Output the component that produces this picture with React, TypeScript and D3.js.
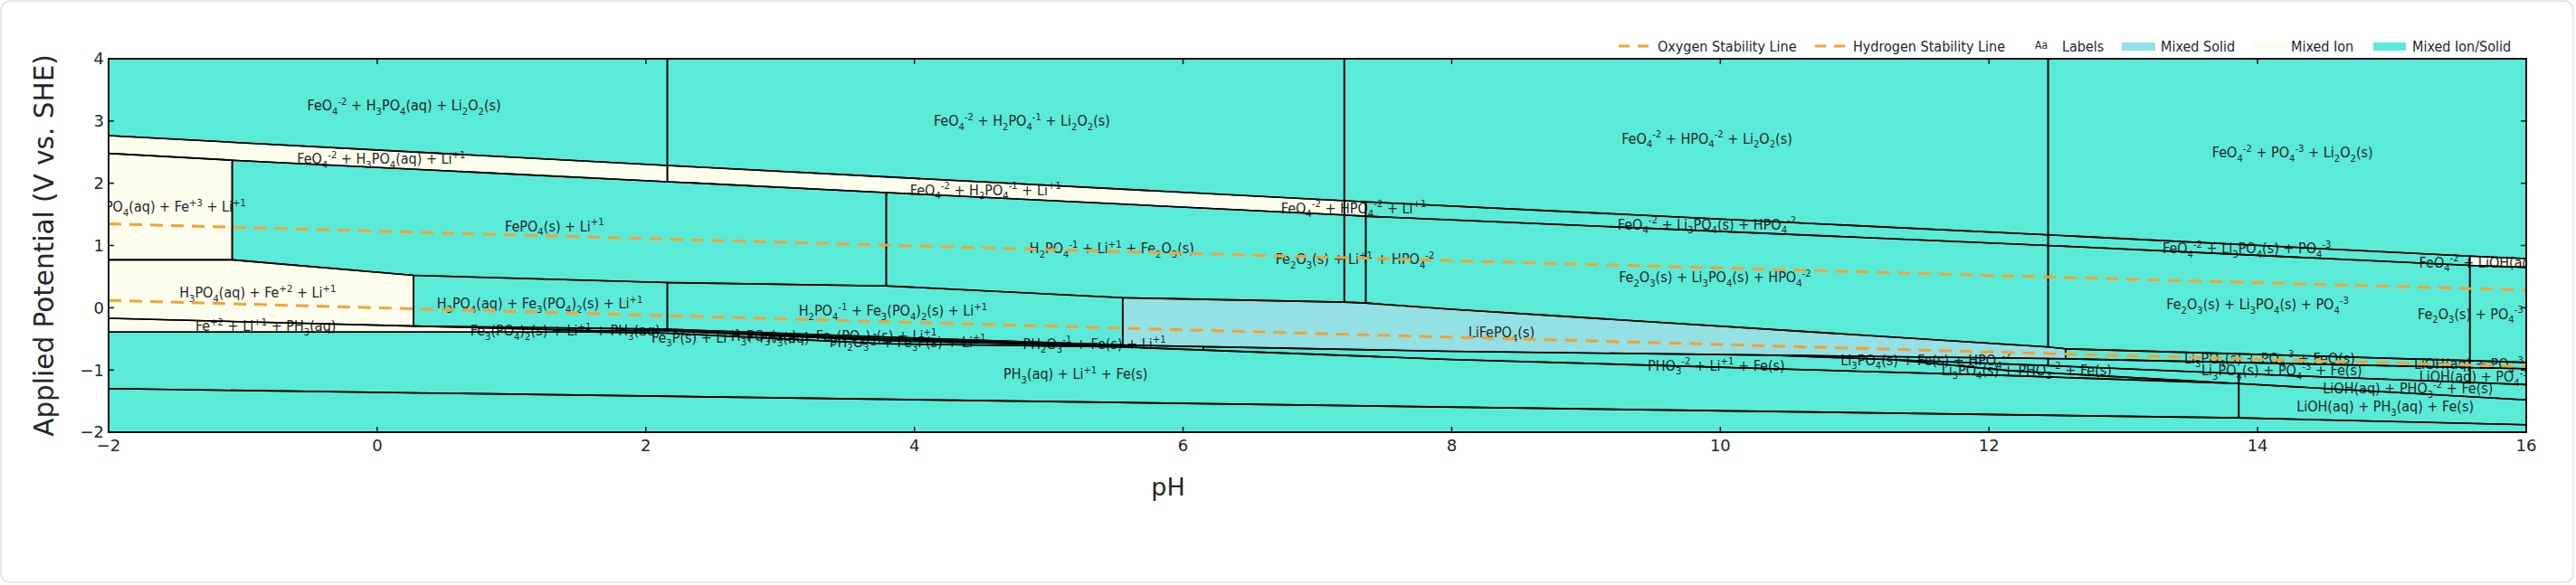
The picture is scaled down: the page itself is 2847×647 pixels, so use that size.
import React from "react";
import * as d3 from "d3";

type P = [number, number];

// ---------- axes ----------
const pHTicks = [-2, 0, 2, 4, 6, 8, 10, 12, 14, 16];
const potentialTicks = [-2, -1, 0, 1, 2, 3, 4];

// ---------- boundary lines, [pH, E (V vs SHE)] ----------
const lineTop: P[] = [[-2, 4], [16, 4]];
const lineA: P[] = [[-2, 2.765], [2.16, 2.285], [7.2, 1.72], [7.36, 1.7], [12.44, 1.17], [15.58, 0.83], [16, 0.79]];
const lineB: P[] = [[-2, 2.48], [-1.08, 2.37], [2.16, 2.025], [3.79, 1.85], [7.2, 1.49], [7.36, 1.47], [12.44, 1.0], [15.58, 0.68], [16, 0.65]];
const lineC: P[] = [[-2, 0.77], [-1.08, 0.77], [0.27, 0.52], [2.16, 0.405], [3.79, 0.35], [5.55, 0.16], [7.2, 0.09], [7.36, 0.075], [7.97, -0.02], [12.15, -0.59], [12.44, -0.63], [12.57, -0.66], [15.58, -0.85], [16, -0.88]];
const lineD: P[] = [[-2, -0.17], [0.27, -0.295], [2.16, -0.345], [3.79, -0.47], [5.55, -0.6]];
const lineB1: P[] = [[0.27, -0.295], [1.6, -0.37], [2.16, -0.37], [3.79, -0.5], [5.55, -0.605]];
const lineB2: P[] = [[2.16, -0.37], [3.79, -0.53], [5.55, -0.615]];
const lineH: P[] = [[-2, -0.39], [1.6, -0.39], [2.16, -0.41], [3.79, -0.58], [5.55, -0.63], [6.15, -0.68], [7.97, -0.83], [12.15, -1.09], [13.86, -1.22], [16, -1.48]];
const lineL1: P[] = [[5.55, -0.6], [7.97, -0.7], [12.57, -0.82], [16, -0.98]];
const lineM: P[] = [[10.4, -0.763], [12.44, -0.93], [13.86, -1.06], [15.58, -1.2], [16, -1.235]];
const lineQ: P[] = [[11.3, -0.837], [12.15, -1.01], [13.86, -1.22]];
const lineBottom: P[] = [[-2, -1.3], [13.86, -1.77], [16, -1.88]];
const lineFloor: P[] = [[-2, -2], [16, -2]];

// ---------- water stability lines ----------
const oxygenLine: P[] = [[-2, 1.348], [16, 0.284]];
const hydrogenLine: P[] = [[-2, 0.118], [16, -0.946]];

// ---------- regions ----------
type Part = [P[], number, number];
type Region = { label: string; phase: "ion" | "solid" | "mixed"; top: Part[]; bot: Part[]; at: P | null };

const regions: Region[] = [
  { label: "FeO4-2 + H3PO4(aq) + Li2O2(s)", phase: "mixed", top: [[lineTop, -2, 2.16]], bot: [[lineA, -2, 2.16]], at: [0.2, 3.25] },
  { label: "FeO4-2 + H2PO4-1 + Li2O2(s)", phase: "mixed", top: [[lineTop, 2.16, 7.2]], bot: [[lineA, 2.16, 7.2]], at: [4.8, 3.0] },
  { label: "FeO4-2 + HPO4-2 + Li2O2(s)", phase: "mixed", top: [[lineTop, 7.2, 12.44]], bot: [[lineA, 7.2, 12.44]], at: [9.9, 2.72] },
  { label: "FeO4-2 + PO4-3 + Li2O2(s)", phase: "mixed", top: [[lineTop, 12.44, 16]], bot: [[lineA, 12.44, 16]], at: [14.26, 2.49] },

  { label: "FeO4-2 + H3PO4(aq) + Li+1", phase: "ion", top: [[lineA, -2, 2.16]], bot: [[lineB, -2, 2.16]], at: [0.03, 2.39] },
  { label: "FeO4-2 + H2PO4-1 + Li+1", phase: "ion", top: [[lineA, 2.16, 7.2]], bot: [[lineB, 2.16, 7.2]], at: [4.53, 1.89] },
  { label: "FeO4-2 + HPO4-2 + Li+1", phase: "ion", top: [[lineA, 7.2, 7.36]], bot: [[lineB, 7.2, 7.36]], at: [7.27, 1.6] },
  { label: "FeO4-2 + Li3PO4(s) + HPO4-2", phase: "mixed", top: [[lineA, 7.36, 12.44]], bot: [[lineB, 7.36, 12.44]], at: [9.9, 1.34] },
  { label: "FeO4-2 + Li3PO4(s) + PO4-3", phase: "mixed", top: [[lineA, 12.44, 15.58]], bot: [[lineB, 12.44, 15.58]], at: [13.92, 0.95] },
  { label: "FeO4-2 + LiOH(aq) + PO4-3", phase: "ion", top: [[lineA, 15.58, 16]], bot: [[lineB, 15.58, 16]], at: [15.83, 0.73] },

  { label: "H3PO4(aq) + Fe+3 + Li+1", phase: "ion", top: [[lineB, -2, -1.08]], bot: [[lineC, -2, -1.08]], at: [-1.56, 1.62] },
  { label: "FePO4(s) + Li+1", phase: "mixed", top: [[lineB, -1.08, 3.79]], bot: [[lineC, -1.08, 3.79]], at: [1.32, 1.31] },
  { label: "H2PO4-1 + Li+1 + Fe2O3(s)", phase: "mixed", top: [[lineB, 3.79, 7.2]], bot: [[lineC, 3.79, 7.2]], at: [5.47, 0.95] },
  { label: "Fe2O3(s) + Li+1 + HPO4-2", phase: "mixed", top: [[lineB, 7.2, 7.36]], bot: [[lineC, 7.2, 7.36]], at: [7.28, 0.78] },
  { label: "Fe2O3(s) + Li3PO4(s) + HPO4-2", phase: "mixed", top: [[lineB, 7.36, 12.44]], bot: [[lineC, 7.36, 12.44]], at: [9.96, 0.49] },
  { label: "Fe2O3(s) + Li3PO4(s) + PO4-3", phase: "mixed", top: [[lineB, 12.44, 15.58]], bot: [[lineC, 12.44, 15.58]], at: [14.0, 0.05] },
  { label: "Fe2O3(s) + PO4-3 + LiOH(aq)", phase: "mixed", top: [[lineB, 15.58, 16]], bot: [[lineC, 15.58, 16]], at: [15.87, -0.1] },

  { label: "H3PO4(aq) + Fe+2 + Li+1", phase: "ion", top: [[lineC, -2, 0.27]], bot: [[lineD, -2, 0.27]], at: [-0.89, 0.24] },
  { label: "H3PO4(aq) + Fe3(PO4)2(s) + Li+1", phase: "mixed", top: [[lineC, 0.27, 2.16]], bot: [[lineD, 0.27, 2.16]], at: [1.21, 0.07] },
  { label: "H2PO4-1 + Fe3(PO4)2(s) + Li+1", phase: "mixed", top: [[lineC, 2.16, 5.55]], bot: [[lineD, 2.16, 5.55]], at: [3.84, -0.05] },

  { label: "LiFePO4(s)", phase: "solid", top: [[lineC, 5.55, 12.57]], bot: [[lineL1, 5.55, 12.57]], at: [8.37, -0.4] },
  { label: "Li3PO4(s) + PO4-3 + FeO(s)", phase: "mixed", top: [[lineC, 12.57, 15.58]], bot: [[lineL1, 12.57, 15.58]], at: [14.09, -0.81] },
  { label: "LiOH(aq) + PO4-3 + FeO(s)", phase: "mixed", top: [[lineC, 15.58, 16]], bot: [[lineL1, 15.58, 16]], at: [15.8, -0.91] },
  { label: "Li3PO4(s) + Fe(s) + HPO4-2", phase: "mixed", top: [[lineL1, 10.4, 12.44]], bot: [[lineM, 10.4, 12.44]], at: [11.53, -0.84] },
  { label: "Li3PO4(s) + PO4-3 + Fe(s)", phase: "mixed", top: [[lineL1, 12.44, 15.58]], bot: [[lineM, 12.44, 15.58]], at: [14.18, -1.01] },
  { label: "LiOH(aq) + PO4-3 + Fe(s)", phase: "mixed", top: [[lineL1, 15.58, 16]], bot: [[lineM, 15.58, 16]], at: [15.8, -1.11] },
  { label: "Li3PO4(s) + PHO3-2 + Fe(s)", phase: "mixed", top: [[lineM, 11.3, 13.86]], bot: [[lineQ, 11.3, 13.86]], at: [12.28, -1.0] },
  { label: "LiOH(aq) + PHO3-2 + Fe(s)", phase: "mixed", top: [[lineM, 13.86, 16]], bot: [[lineH, 13.86, 16]], at: [15.12, -1.3] },
  { label: "PHO3-2 + Li+1 + Fe(s)", phase: "mixed", top: [[lineL1, 6.15, 10.4], [lineM, 10.4, 11.3], [lineQ, 11.3, 13.86]], bot: [[lineH, 6.15, 13.86]], at: [9.97, -0.93] },

  { label: "Fe+2 + Li+1 + PH3(aq)", phase: "ion", top: [[lineD, -2, 0.27], [lineB1, 0.27, 1.6]], bot: [[lineH, -2, 1.6]], at: [-0.83, -0.3] },
  { label: "Fe3(PO4)2(s) + Li+1 + PH3(aq)", phase: "mixed", top: [[lineD, 0.27, 2.16]], bot: [[lineB1, 0.27, 2.16]], at: [1.4, -0.37] },
  { label: "Fe3P(s) + Li+1 + PH3(aq)", phase: "mixed", top: [[lineB1, 1.6, 2.16], [lineB2, 2.16, 3.0]], bot: [[lineH, 1.6, 3.0]], at: [2.63, -0.475] },
  { label: "H3PO3(aq) + Fe3(PO4)2(s) + Li+1", phase: "mixed", top: [[lineD, 2.16, 5.55]], bot: [[lineB1, 2.16, 5.55]], at: [3.4, -0.46] },
  { label: "PH2O3-1 + Fe3P(s) + Li+1", phase: "mixed", top: [[lineB1, 2.16, 5.55]], bot: [[lineB2, 2.16, 5.55]], at: [3.95, -0.55] },
  { label: "PH2O3-1 + Fe(s) + Li+1", phase: "mixed", top: [[lineB2, 3.0, 5.55], [lineL1, 5.55, 6.15]], bot: [[lineH, 3.0, 6.15]], at: [5.34, -0.58] },

  { label: "PH3(aq) + Li+1 + Fe(s)", phase: "mixed", top: [[lineH, -2, 13.86]], bot: [[lineBottom, -2, 13.86]], at: [5.2, -1.07] },
  { label: "LiOH(aq) + PH3(aq) + Fe(s)", phase: "mixed", top: [[lineH, 13.86, 16]], bot: [[lineBottom, 13.86, 16]], at: [14.95, -1.59] },
  { label: "", phase: "mixed", top: [[lineBottom, -2, 16]], bot: [[lineFloor, -2, 16]], at: null },
];

// ---------- helpers ----------
function valueAt(line: P[], ph: number): number {
  for (let i = 0; i < line.length - 1; i++) {
    const [x0, y0] = line[i];
    const [x1, y1] = line[i + 1];
    if (ph >= x0 - 1e-9 && ph <= x1 + 1e-9) {
      if (x1 === x0) return y0;
      return y0 + ((y1 - y0) * (ph - x0)) / (x1 - x0);
    }
  }
  return ph < line[0][0] ? line[0][1] : line[line.length - 1][1];
}
function seg(line: P[], a: number, b: number): P[] {
  const pts: P[] = [[a, valueAt(line, a)]];
  for (const p of line) if (p[0] > a + 1e-9 && p[0] < b - 1e-9) pts.push(p);
  pts.push([b, valueAt(line, b)]);
  return pts;
}
function chain(parts: Part[]): P[] {
  const out: P[] = [];
  for (const [l, a, b] of parts) out.push(...seg(l, a, b));
  return out;
}
function polygon(r: Region): P[] {
  return [...chain(r.top), ...chain(r.bot).reverse()];
}

type Run = { t: string; k: "n" | "sub" | "sup" };
function parseFormula(s: string): Run[] {
  const runs: Run[] = [];
  const push = (t: string, k: Run["k"]) => {
    if (runs.length && runs[runs.length - 1].k === k) runs[runs.length - 1].t += t;
    else runs.push({ t, k });
  };
  for (let i = 0; i < s.length; i++) {
    const c = s[i];
    const prev = i > 0 ? s[i - 1] : "";
    if ((c === "+" || c === "-") && /\d/.test(s[i + 1] || "") && prev && prev !== " ") {
      let j = i + 1;
      while (j < s.length && /\d/.test(s[j])) j++;
      push(s.slice(i, j), "sup");
      i = j - 1;
    } else if (/\d/.test(c) && /[A-Za-z)]/.test(prev)) {
      let j = i;
      while (j < s.length && /\d/.test(s[j])) j++;
      push(s.slice(i, j), "sub");
      i = j - 1;
    } else push(c, "n");
  }
  return runs;
}

// ---------- layout ----------
const W = 2847;
const H = 647;
const PL = 120, PR = 2792, PT = 65, PB = 478;
const x = d3.scaleLinear().domain([-2, 16]).range([PL, PR]);
const y = d3.scaleLinear().domain([-2, 4]).range([PB, PT]);

const colors = { solid: "#93e0e5", ion: "#fdfdee", mixed: "#5aead8" };
const ORANGE = "#f7a12f";
const TEXT = "#262626";
const LABEL_FONT = "'DejaVu Sans Condensed', 'DejaVu Sans', sans-serif";
const MAIN_FONT = "'DejaVu Sans', sans-serif";

const path = d3.line<P>().x((d) => x(d[0])).y((d) => y(d[1]));
const fmt = d3.format("d");

function Formula({ text, px, py, size = 16 }: { text: string; px: number; py: number; size?: number }) {
  const runs = parseFormula(text);
  const off = { n: 0, sub: 4.5, sup: -6.5 };
  let cur = 0;
  return (
    <text x={px} y={py} textAnchor="middle" fontFamily={LABEL_FONT} fontStretch="condensed" fontSize={size} fill={TEXT}>
      {runs.map((r, i) => {
        const dy = off[r.k] - cur;
        cur = off[r.k];
        return (
          <tspan key={i} dy={dy} fontSize={r.k === "n" ? size : size * 0.7}>
            {r.t.replace(/ /g, "\u00a0")}
          </tspan>
        );
      })}
    </text>
  );
}

export default function App() {
  const polys = regions.map((r) => ({ r, pts: polygon(r) }));
  return (
    <svg width={W} height={H} style={{ position: "absolute", left: 0, top: 0, background: "#fff" }}>
      <defs>
        <clipPath id="plotClip">
          <rect x={PL} y={PT} width={PR - PL} height={PB - PT} />
        </clipPath>
      </defs>
      <rect x={1} y={1} width={W - 4} height={H - 4} rx={10} fill="#fff" stroke="#e2e2e2" strokeWidth={1.5} />

      <g clipPath="url(#plotClip)">
        {polys.map(({ r, pts }, i) => (
          <path key={"f" + i} d={path(pts) + "Z"} fill={colors[r.phase]} stroke="none" />
        ))}
        {polys.map(({ r }, i) =>
          r.at ? <Formula key={"l" + i} text={r.label} px={x(r.at[0])} py={y(r.at[1]) + 5.5} /> : null
        )}
        {polys.map(({ pts }, i) => (
          <path key={"s" + i} d={path(pts) + "Z"} fill="none" stroke="#000" strokeWidth={1.6} strokeLinejoin="round" />
        ))}
        <path d={path(oxygenLine) || ""} fill="none" stroke={ORANGE} strokeWidth={3} strokeDasharray="14 9" />
        <path d={path(hydrogenLine) || ""} fill="none" stroke={ORANGE} strokeWidth={3} strokeDasharray="14 9" />
      </g>

      {/* frame */}
      <rect x={PL} y={PT} width={PR - PL} height={PB - PT} fill="none" stroke="#111" strokeWidth={2} />

      {/* ticks */}
      {pHTicks.map((t) => (
        <g key={"xt" + t}>
          <line x1={x(t)} x2={x(t)} y1={PB} y2={PB - 6} stroke="#111" strokeWidth={1.5} />
          <line x1={x(t)} x2={x(t)} y1={PT} y2={PT + 6} stroke="#111" strokeWidth={1.5} />
          <text x={x(t)} y={PB + 21} textAnchor="middle" fontFamily={MAIN_FONT} fontSize={18} fill={TEXT}>
            {fmt(t)}
          </text>
        </g>
      ))}
      {potentialTicks.map((t) => (
        <g key={"yt" + t}>
          <line x1={PL} x2={PL + 6} y1={y(t)} y2={y(t)} stroke="#111" strokeWidth={1.5} />
          <line x1={PR} x2={PR - 6} y1={y(t)} y2={y(t)} stroke="#111" strokeWidth={1.5} />
          <text x={PL - 5} y={y(t)} dy="0.36em" textAnchor="end" fontFamily={MAIN_FONT} fontSize={18} fill={TEXT}>
            {fmt(t)}
          </text>
        </g>
      ))}

      {/* axis titles */}
      <text x={1291} y={539} dy="0.35em" textAnchor="middle" fontFamily={MAIN_FONT} fontSize={27} fill={TEXT}>
        pH
      </text>
      <text
        transform={`translate(49, ${(PT + PB) / 2}) rotate(-90)`}
        dy="0.35em"
        textAnchor="middle"
        fontFamily={MAIN_FONT}
        fontSize={29.5}
        fill={TEXT}
      >
        Applied Potential (V vs. SHE)
      </text>

      {/* legend */}
      <g fontFamily={LABEL_FONT} fontStretch="condensed" fontSize={16} fill={TEXT}>
        <line x1={1789} x2={1822} y1={51} y2={51} stroke={ORANGE} strokeWidth={3} strokeDasharray="12 9" />
        <text x={1832} y={57}>Oxygen Stability Line</text>
        <line x1={2006} x2={2039} y1={51} y2={51} stroke={ORANGE} strokeWidth={3} strokeDasharray="12 9" />
        <text x={2048} y={57}>Hydrogen Stability Line</text>
        <text x={2249} y={54} fontSize={12}>Aa</text>
        <text x={2279} y={57}>Labels</text>
        <rect x={2345} y={47} width={37} height={9} fill={colors.solid} />
        <text x={2388} y={57}>Mixed Solid</text>
        <rect x={2491} y={47} width={37} height={9} fill={colors.ion} />
        <text x={2532} y={57}>Mixed Ion</text>
        <rect x={2623} y={47} width={36} height={9} fill={colors.mixed} />
        <text x={2666} y={57}>Mixed Ion/Solid</text>
      </g>
    </svg>
  );
}
